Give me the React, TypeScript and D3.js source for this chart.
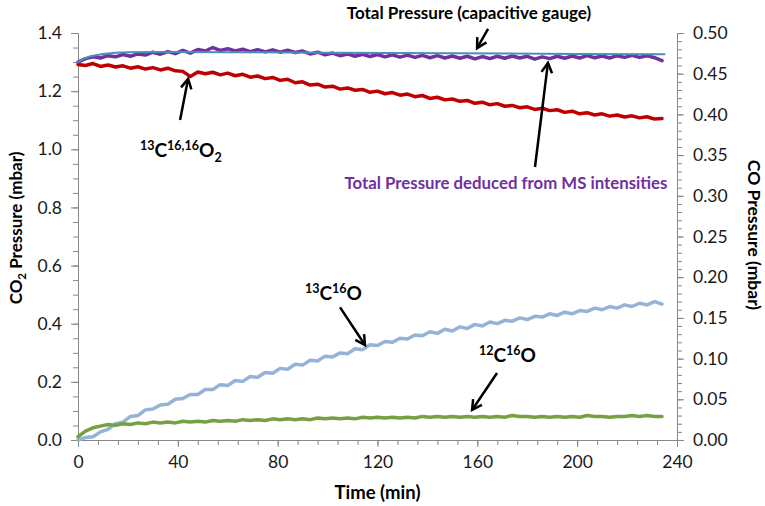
import React, { useEffect, useRef } from 'react'
import * as d3 from 'd3'

// sampling times (min)
const minutes = [
  0, 3, 6, 9, 12, 15, 18, 21, 24, 27, 30, 33, 36, 39, 42, 45, 48, 51, 54, 57,
  60, 63, 66, 69, 72, 75, 78, 81, 84, 87, 90, 93, 96, 99, 102, 105, 108, 111, 114, 117,
  120, 123, 126, 129, 132, 135, 138, 141, 144, 147, 150, 153, 156, 159, 162, 165, 168, 171, 174, 177,
  180, 183, 186, 189, 192, 195, 198, 201, 204, 207, 210, 213, 216, 219, 222, 225, 228, 231, 234,
]

// 13C16,16O2 pressure (mbar, left axis)
const co2Values = [
  1.292, 1.288, 1.295, 1.285, 1.290, 1.283, 1.287, 1.279, 1.284, 1.276, 1.281, 1.273, 1.279, 1.270, 1.268, 1.250, 1.266, 1.260, 1.265, 1.256,
  1.262, 1.253, 1.258, 1.248, 1.252, 1.243, 1.247, 1.237, 1.241, 1.229, 1.232, 1.221, 1.224, 1.214, 1.217, 1.207, 1.211, 1.203, 1.206, 1.196,
  1.200, 1.191, 1.195, 1.186, 1.190, 1.181, 1.185, 1.175, 1.179, 1.170, 1.173, 1.165, 1.168, 1.158, 1.162, 1.153, 1.157, 1.148, 1.151, 1.143,
  1.146, 1.137, 1.141, 1.133, 1.136, 1.127, 1.131, 1.122, 1.126, 1.118, 1.122, 1.114, 1.118, 1.111, 1.115, 1.108, 1.112, 1.104, 1.106,
]

// total pressure deduced from MS intensities (mbar, left axis)
const msTotal = [
  1.300, 1.312, 1.318, 1.314, 1.322, 1.318, 1.326, 1.320, 1.328, 1.324, 1.334, 1.327, 1.336, 1.329, 1.340, 1.331, 1.343, 1.338, 1.350, 1.340,
  1.346, 1.338, 1.344, 1.336, 1.343, 1.335, 1.342, 1.334, 1.341, 1.333, 1.338, 1.328, 1.334, 1.325, 1.331, 1.322, 1.328, 1.320, 1.327, 1.319,
  1.326, 1.318, 1.325, 1.317, 1.324, 1.316, 1.323, 1.315, 1.322, 1.314, 1.321, 1.313, 1.320, 1.311, 1.319, 1.312, 1.320, 1.313, 1.321, 1.314,
  1.320, 1.310, 1.318, 1.312, 1.320, 1.313, 1.321, 1.314, 1.322, 1.315, 1.321, 1.314, 1.322, 1.316, 1.323, 1.316, 1.322, 1.315, 1.305,
]

// capacitive gauge
const gaugeMinutes = [0, 2, 5, 10, 15, 20, 30, 60, 100, 150, 200, 235]
const gaugeTotal = [1.300, 1.310, 1.320, 1.328, 1.332, 1.334, 1.335, 1.334, 1.332, 1.330, 1.328, 1.327]

// 13C16O pressure (mbar, right axis)
const co13Values = [
  0.000, 0.003, 0.004, 0.010, 0.013, 0.020, 0.022, 0.029, 0.030, 0.037, 0.038, 0.043, 0.044, 0.050, 0.051, 0.056, 0.056, 0.062, 0.062, 0.068,
  0.067, 0.073, 0.072, 0.078, 0.077, 0.083, 0.082, 0.088, 0.087, 0.093, 0.092, 0.098, 0.097, 0.103, 0.102, 0.107, 0.106, 0.112, 0.111, 0.117,
  0.116, 0.121, 0.120, 0.125, 0.124, 0.129, 0.128, 0.133, 0.131, 0.136, 0.134, 0.139, 0.137, 0.142, 0.140, 0.145, 0.143, 0.147, 0.146, 0.150,
  0.148, 0.152, 0.151, 0.155, 0.153, 0.157, 0.155, 0.159, 0.158, 0.162, 0.160, 0.164, 0.162, 0.166, 0.164, 0.168, 0.166, 0.170, 0.167,
]

// 12C16O pressure (mbar, right axis)
const co12Values = [
  0.004, 0.011, 0.015, 0.017, 0.019, 0.018, 0.020, 0.019, 0.021, 0.020, 0.022, 0.021, 0.022, 0.021, 0.023, 0.022, 0.023, 0.022, 0.024, 0.023,
  0.024, 0.023, 0.025, 0.024, 0.025, 0.024, 0.026, 0.025, 0.026, 0.025, 0.026, 0.025, 0.027, 0.026, 0.027, 0.026, 0.027, 0.026, 0.028, 0.027,
  0.028, 0.027, 0.028, 0.027, 0.028, 0.027, 0.029, 0.028, 0.029, 0.028, 0.029, 0.028, 0.029, 0.028, 0.029, 0.028, 0.029, 0.028, 0.030, 0.029,
  0.029, 0.028, 0.029, 0.028, 0.029, 0.028, 0.029, 0.028, 0.030, 0.029, 0.029, 0.028, 0.029, 0.029, 0.030, 0.029, 0.030, 0.029, 0.029,
]

const timeTicks = [0, 40, 80, 120, 160, 200, 240]
const co2Ticks = [0, 0.2, 0.4, 0.6, 0.8, 1.0, 1.2, 1.4]
const coTicks = [0, 0.05, 0.1, 0.15, 0.2, 0.25, 0.3, 0.35, 0.4, 0.45, 0.5]

const font = 'Lato, "Open Sans", sans-serif'

function App() {
  const svgRef = useRef<SVGSVGElement>(null)

  useEffect(() => {
    const width = 765
    const height = 506
    const margin = { top: 33, right: 88, bottom: 66, left: 78 }
    const svg = d3.select(svgRef.current)
    svg.selectAll('*').remove()

    const x = d3.scaleLinear().domain([0, 240]).range([margin.left, width - margin.right])
    const yL = d3.scaleLinear().domain([0, 1.4]).range([height - margin.bottom, margin.top])
    const yR = d3.scaleLinear().domain([0, 0.5]).range([height - margin.bottom, margin.top])

    const axisColor = '#868686'
    const styleAxis = (g: any) => {
      g.select('.domain').attr('stroke', axisColor)
      g.selectAll('.tick line').attr('stroke', axisColor)
      g.selectAll('.tick text').attr('fill', '#1a1a1a').style('font-family', font).style('font-size', '17.5px')
    }

    // minor ticks
    svg.append('g')
      .attr('transform', `translate(0, ${height - margin.bottom})`)
      .call(d3.axisBottom(x).tickValues(d3.range(0, 241, 8)).tickSize(5).tickSizeOuter(0).tickFormat(() => ''))
      .call(styleAxis)
    svg.append('g')
      .attr('transform', `translate(${margin.left}, 0)`)
      .call(d3.axisLeft(yL).tickValues(d3.range(0, 1.4001, 0.05)).tickSize(5).tickSizeOuter(0).tickFormat(() => ''))
      .call(styleAxis)
    svg.append('g')
      .attr('transform', `translate(${width - margin.right}, 0)`)
      .call(d3.axisRight(yR).tickValues(d3.range(0, 0.5001, 0.01)).tickSize(5).tickSizeOuter(0).tickFormat(() => ''))
      .call(styleAxis)

    // major ticks
    svg.append('g')
      .attr('transform', `translate(0, ${height - margin.bottom})`)
      .call(d3.axisBottom(x).tickValues(timeTicks).tickSize(7).tickSizeOuter(0).tickPadding(9).tickFormat(d3.format('d')))
      .call(styleAxis)
    svg.append('g')
      .attr('transform', `translate(${margin.left}, 0)`)
      .call(d3.axisLeft(yL).tickValues(co2Ticks).tickSize(7).tickSizeOuter(0).tickPadding(9).tickFormat(d3.format('.1f')))
      .call(styleAxis)
    svg.append('g')
      .attr('transform', `translate(${width - margin.right}, 0)`)
      .call(d3.axisRight(yR).tickValues(coTicks).tickSize(7).tickSizeOuter(0).tickPadding(9).tickFormat(d3.format('.2f')))
      .call(styleAxis)

    // series
    const lineL = d3.line<[number, number]>().x(d => x(d[0])).y(d => yL(d[1]))
    const lineR = d3.line<[number, number]>().x(d => x(d[0])).y(d => yR(d[1]))
    const pairs = (vals: number[], ts: number[] = minutes) => vals.map((v, i) => [ts[i], v] as [number, number])

    const draw = (d: string | null, color: string, w: number) =>
      svg.append('path').attr('d', d).attr('fill', 'none').attr('stroke', color)
        .attr('stroke-width', w).attr('stroke-linejoin', 'round').attr('stroke-linecap', 'round')

    draw(lineR(pairs(co13Values)), '#95b3d7', 3.5)
    draw(lineR(pairs(co12Values)), '#77a043', 3.5)
    draw(lineL(pairs(co2Values)), '#c00000', 3.5)
    draw(lineL(pairs(msTotal)), '#7030a0', 3.5)
    draw(lineL(pairs(gaugeTotal, gaugeMinutes)), '#4a8fb8', 2)

    // arrows
    const arrow = (x1: number, y1: number, x2: number, y2: number) => {
      const a = Math.atan2(y2 - y1, x2 - x1)
      const L = 11
      const s = 0.5
      const p1 = [x2 - L * Math.cos(a - s), y2 - L * Math.sin(a - s)]
      const p2 = [x2 - L * Math.cos(a + s), y2 - L * Math.sin(a + s)]
      svg.append('line').attr('x1', x1).attr('y1', y1).attr('x2', x2).attr('y2', y2)
        .attr('stroke', '#000').attr('stroke-width', 2.5)
      svg.append('path').attr('d', `M${p1[0]},${p1[1]}L${x2},${y2}L${p2[0]},${p2[1]}`)
        .attr('fill', 'none').attr('stroke', '#000').attr('stroke-width', 2.5)
    }
    arrow(x(164.3), yL(1.414), x(159.9), yL(1.348))
    arrow(x(183.1), yL(0.939), x(188.3), yL(1.297))
    arrow(x(40.9), yL(1.101), x(44.1), yL(1.242))
    arrow(x(105), yR(0.163), x(115), yR(0.1167))
    arrow(x(167.9), yR(0.0823), x(157.9), yR(0.0369))

    // labels
    const text = (tx: number, ty: number, size: number, anchor = 'start', color = '#000') =>
      svg.append('text').attr('x', tx).attr('y', ty).attr('text-anchor', anchor)
        .attr('fill', color).style('font-family', font).style('font-size', `${size}px`).style('font-weight', 'bold')

    text(469, 19, 17, 'middle').text('Total Pressure (capacitive gauge)')
    text(506, 189, 16.8, 'middle', '#7030a0').text('Total Pressure deduced from MS intensities')

    const sup = (t: any, s: string, size: number) => t.append('tspan').attr('dy', -7).style('font-size', `${size}px`).text(s)
    const base = (t: any, s: string) => t.append('tspan').attr('dy', 7).text(s)

    const l1 = text(140, 157, 19)
    l1.append('tspan').attr('dy', -7).style('font-size', '12.5px').text('13')
    base(l1, 'C')
    sup(l1, '16,16', 12.5)
    base(l1, 'O')
    l1.append('tspan').attr('dy', 5).style('font-size', '12.5px').text('2')

    const l2 = text(305, 300, 19)
    sup(l2, '13', 12.5); base(l2, 'C'); sup(l2, '16', 12.5); base(l2, 'O')
    const l3 = text(479, 362, 19)
    sup(l3, '12', 12.5); base(l3, 'C'); sup(l3, '16', 12.5); base(l3, 'O')

    // axis titles
    const t1 = svg.append('text').attr('transform', `translate(22, 228) rotate(-90)`).attr('text-anchor', 'middle')
      .style('font-family', font).style('font-size', '17px').style('font-weight', 'bold')
    t1.append('tspan').text('CO')
    t1.append('tspan').attr('dy', 4).style('font-size', '11.5px').text('2')
    t1.append('tspan').attr('dy', -4).text(' Pressure (mbar)')

    svg.append('text').attr('transform', `translate(748, 235) rotate(90)`).attr('text-anchor', 'middle')
      .style('font-family', font).style('font-size', '17.5px').style('font-weight', 'bold')
      .text('CO Pressure (mbar)')

    svg.append('text').attr('x', x(120)).attr('y', 499).attr('text-anchor', 'middle')
      .style('font-family', font).style('font-size', '18.5px').style('font-weight', 'bold')
      .text('Time (min)')
  }, [])

  return (
    <div className='App'>
      <svg ref={svgRef} width={765} height={506}
        style={{ position: 'absolute', left: 0, top: 0, background: '#fff' }}></svg>
    </div>
  )
}

export default App
